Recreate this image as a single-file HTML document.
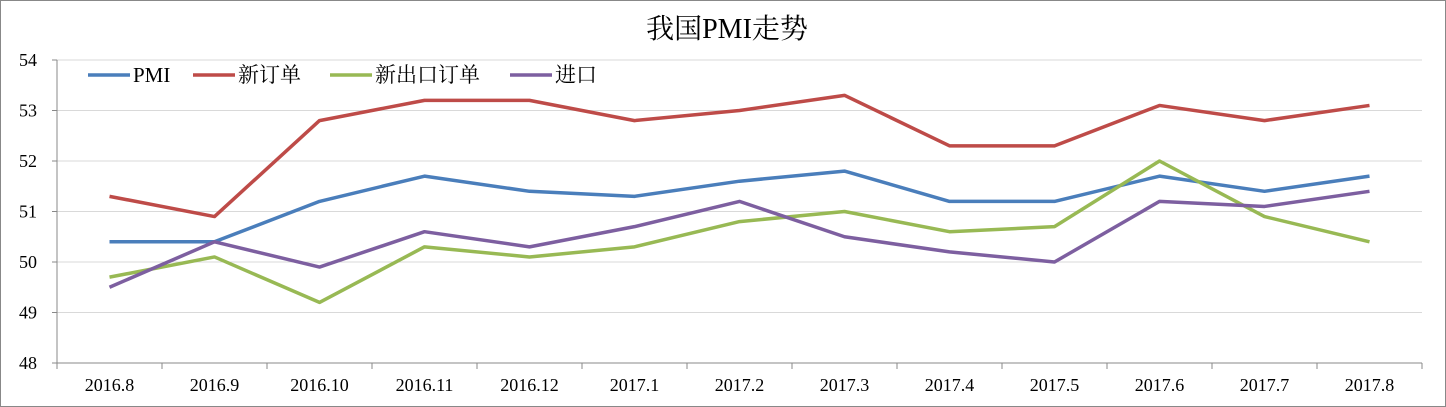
<!DOCTYPE html>
<html><head><meta charset="utf-8"><style>
html,body{margin:0;padding:0;background:#fff}
svg{display:block}
text{font-family:"Liberation Serif","Noto Serif CJK SC","Noto Sans CJK SC",serif;fill:#000}
</style></head><body>
<svg id="s" width="1446" height="407" xmlns="http://www.w3.org/2000/svg">
<rect x="0.5" y="0.5" width="1445" height="406" fill="#fff" stroke="#888"/>
<text x="727" y="38" font-size="28" text-anchor="middle">我国PMI走势</text>
<g id="g"></g>
</svg>
<script>
var g=document.getElementById('g'),h='';
function Y(v){return 363-(v-48)*50.5;}
for(var v=49;v<=54;v++){h+='<line x1="57" x2="1422" y1="'+Y(v)+'" y2="'+Y(v)+'" stroke="#d9d9d9"/>';}
for(var v=48;v<=54;v++){h+='<text x="37" y="'+(Y(v)+6)+'" font-size="18" text-anchor="end">'+v+'</text>';h+='<line x1="52" x2="57" y1="'+Y(v)+'" y2="'+Y(v)+'" stroke="#888"/>';}
h+='<line x1="57" x2="57" y1="60" y2="363" stroke="#888"/><line x1="57" x2="1422" y1="363" y2="363" stroke="#888"/>';
var labs=['2016.8','2016.9','2016.10','2016.11','2016.12','2017.1','2017.2','2017.3','2017.4','2017.5','2017.6','2017.7','2017.8'];
for(var i=0;i<=13;i++){var x=57+105*i;h+='<line x1="'+x+'" x2="'+x+'" y1="363" y2="369" stroke="#888"/>';}
for(var i=0;i<13;i++){h+='<text x="'+(109.5+105*i)+'" y="391" font-size="18" text-anchor="middle">'+labs[i]+'</text>';}
var S=[['#4a7ebb',[50.4,50.4,51.2,51.7,51.4,51.3,51.6,51.8,51.2,51.2,51.7,51.4,51.7]],
['#be4b48',[51.3,50.9,52.8,53.2,53.2,52.8,53.0,53.3,52.3,52.3,53.1,52.8,53.1]],
['#98b954',[49.7,50.1,49.2,50.3,50.1,50.3,50.8,51.0,50.6,50.7,52.0,50.9,50.4]],
['#7d5fa0',[49.5,50.4,49.9,50.6,50.3,50.7,51.2,50.5,50.2,50.0,51.2,51.1,51.4]]];
S.forEach(function(s){var p=s[1].map(function(v,i){return (109.5+105*i)+','+Y(v)}).join(' ');
h+='<polyline points="'+p+'" fill="none" stroke="'+s[0]+'" stroke-width="3.5" stroke-linejoin="round"/>';});
var L=[['PMI',88],['新订单',193],['新出口订单',330],['进口',510]];
L.forEach(function(l,i){h+='<line x1="'+l[1]+'" x2="'+(l[1]+42)+'" y1="75" y2="75" stroke="'+S[i][0]+'" stroke-width="3.5"/>';
h+='<text x="'+(l[1]+45)+'" y="82" font-size="21">'+l[0]+'</text>';});
g.innerHTML=h;
</script>
</body></html>
